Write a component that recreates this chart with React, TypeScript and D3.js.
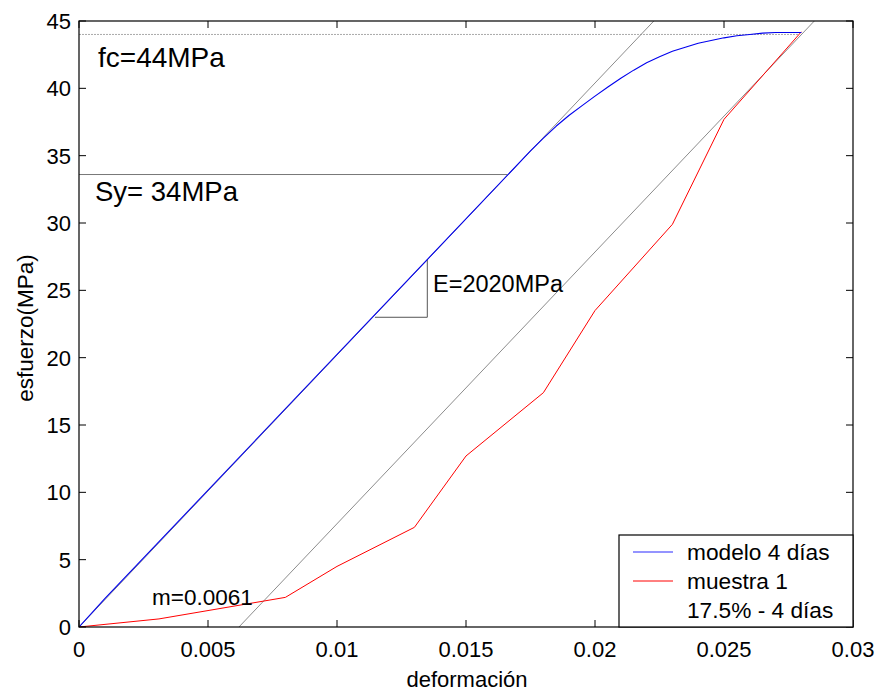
import React from "react";
import * as d3 from "d3";

const xTicks = [0, 0.005, 0.01, 0.015, 0.02, 0.025, 0.03];
const xTickLabels = ["0", "0.005", "0.01", "0.015", "0.02", "0.025", "0.03"];
const yTicks = [0, 5, 10, 15, 20, 25, 30, 35, 40, 45];

// modelo 4 días (blue)
const modeloX = [0, 0.001, 0.0175, 0.018, 0.0185, 0.019, 0.0195, 0.02, 0.0205, 0.021, 0.0215, 0.022, 0.0225, 0.023, 0.0235, 0.024, 0.0245, 0.025, 0.0255, 0.026, 0.0265, 0.027, 0.028];
const modeloY = [0, 2.1, 35.35, 36.3, 37.2, 38.0, 38.72, 39.42, 40.1, 40.75, 41.35, 41.9, 42.35, 42.75, 43.05, 43.35, 43.55, 43.75, 43.9, 44.0, 44.1, 44.15, 44.15];

// muestra 1 (red)
const muestraX = [0, 0.0031, 0.008, 0.01, 0.013, 0.015, 0.018, 0.02, 0.023, 0.025, 0.028];
const muestraY = [0, 0.6, 2.2, 4.5, 7.4, 12.7, 17.4, 23.5, 29.9, 37.7, 44.2];

// reference lines
const elasticLineX = [0, 0.02228];
const elasticLineY = [0, 45];
const offsetLineX = [0.0062, 0.0285];
const offsetLineY = [0, 45];
const fcLineX = [0, 0.0279];
const fcLineY = [44, 44];
const syLineX = [0, 0.0166];
const syLineY = [33.6, 33.6];
const triX = [0.01147, 0.0135, 0.0135];
const triY = [23.0, 23.0, 27.3];

const W = 881;
const H = 691;
const left = 79;
const right = 853;
const top = 21;
const bottom = 627;
const FONT = "'Liberation Sans', Arial, sans-serif";

export default function App() {
  const x = d3.scaleLinear().domain([0, 0.03]).range([left, right]);
  const y = d3.scaleLinear().domain([0, 45]).range([bottom, top]);
  const lineGen = d3
    .line<[number, number]>()
    .x((d) => x(d[0]))
    .y((d) => y(d[1]));
  const zip = (a: number[], b: number[]) => a.map((v, i) => [v, b[i]] as [number, number]);

  const tickLen = 7;
  return (
    <div style={{ position: "fixed", left: 0, top: 0 }}>
      <svg width={W} height={H} style={{ display: "block", background: "#fff" }} fontFamily={FONT}>
        <defs>
          <clipPath id="plotclip">
            <rect x={left} y={top} width={right - left} height={bottom - top} />
          </clipPath>
        </defs>
        <rect x={0} y={0} width={W} height={H} fill="#fff" />
        <g clipPath="url(#plotclip)">
          <path d={lineGen(zip(fcLineX, fcLineY)) || ""} stroke="#aaaaaa" strokeWidth={1} fill="none" strokeDasharray="2,1" />
          <path d={lineGen(zip(syLineX, syLineY)) || ""} stroke="#777" strokeWidth={1} fill="none" />
          <path d={lineGen(zip(elasticLineX, elasticLineY)) || ""} stroke="#8c8c8c" strokeWidth={1} fill="none" />
          <path d={lineGen(zip(offsetLineX, offsetLineY)) || ""} stroke="#8c8c8c" strokeWidth={1} fill="none" />
          <path d={lineGen(zip(triX, triY)) || ""} stroke="#555" strokeWidth={1} fill="none" />
          <path d={lineGen(zip(muestraX, muestraY)) || ""} stroke="#ff0000" strokeWidth={1} fill="none" />
          <path d={lineGen(zip(modeloX, modeloY)) || ""} stroke="#0000ee" strokeWidth={1.1} fill="none" strokeLinejoin="round" />
        </g>
        {/* axes box */}
        <rect x={left} y={top} width={right - left} height={bottom - top} fill="none" stroke="#000" strokeWidth={1.2} />
        {xTicks.map((t, i) => (
          <g key={"x" + i}>
            <line x1={x(t)} x2={x(t)} y1={bottom} y2={bottom - tickLen} stroke="#000" />
            <line x1={x(t)} x2={x(t)} y1={top} y2={top + tickLen} stroke="#000" />
            <text x={x(t)} y={657} textAnchor="middle" fontSize={22}>
              {xTickLabels[i]}
            </text>
          </g>
        ))}
        {yTicks.map((t, i) => (
          <g key={"y" + i}>
            <line x1={left} x2={left + tickLen} y1={y(t)} y2={y(t)} stroke="#000" />
            <line x1={right} x2={right - tickLen} y1={y(t)} y2={y(t)} stroke="#000" />
            <text x={71} y={y(t) + 8} textAnchor="end" fontSize={22}>
              {t}
            </text>
          </g>
        ))}
        <text x={(left + right) / 2 + 1} y={687} textAnchor="middle" fontSize={22}>
          deformación
        </text>
        <text transform={`translate(33, ${(top + bottom) / 2 + 4}) rotate(-90)`} textAnchor="middle" fontSize={22.5}>
          esfuerzo(MPa)
        </text>
        {/* annotations */}
        <text x={98} y={67} fontSize={28}>fc=44MPa</text>
        <text x={95} y={201} fontSize={27.5}>Sy= 34MPa</text>
        <text x={433} y={292} fontSize={23.5}>E=2020MPa</text>
        <text x={152} y={605} fontSize={22.5}>m=0.0061</text>
        {/* legend */}
        <rect x={619} y={535} width={right - 619} height={bottom - 535} fill="#fff" stroke="#000" strokeWidth={1.2} />
        <line x1={633} x2={673} y1={552} y2={552} stroke="#7070ff" strokeWidth={1.3} />
        <line x1={633} x2={673} y1={581} y2={581} stroke="#ff0000" strokeWidth={1} />
        <text x={687} y={560} fontSize={22.7}>modelo 4 días</text>
        <text x={687} y={589} fontSize={22.7}>muestra 1</text>
        <text x={687} y={618} fontSize={22.7}>17.5% - 4 días</text>
      </svg>
    </div>
  );
}
